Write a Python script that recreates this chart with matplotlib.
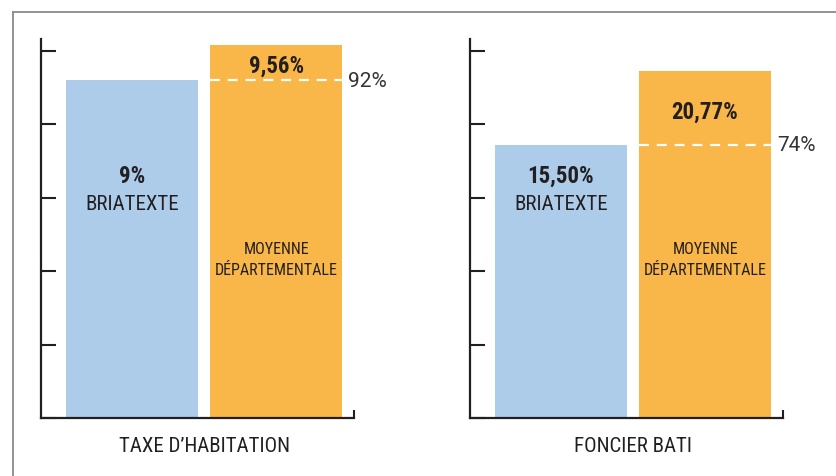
import numpy as np
import matplotlib.pyplot as plt
from matplotlib.lines import Line2D

plt.rcParams['font.family'] = ['Roboto Condensed', 'Archivo Narrow', 'Liberation Sans Narrow', 'DejaVu Sans']

# data (bar heights, in tick units; labels as printed)
panels = ['TAXE D\u2019HABITATION', 'FONCIER BATI']
briatexte = [4.60, 3.72]
moyenne = [5.08, 4.73]
labels_b = ['9%', '15,50%']
labels_m = ['9,56%', '20,77%']
ratio = ['92%', '74%']

blue = '#ACCCEA'
orange = '#FAB749'
dark = '#231F20'

W, H = 836, 477
fig = plt.figure(figsize=(W / 100, H / 100), dpi=100)

# outer frame (left + top gray lines)
fig.add_artist(Line2D([13 / W, 13 / W], [0, 1 - 13 / H], color='#8a8a8a', lw=1.3))
fig.add_artist(Line2D([13 / W, 1], [1 - 13 / H, 1 - 13 / H], color='#8a8a8a', lw=1.3))

lefts = [41, 470]
width_px = 313
bottom_px = 419
top_px = 40
ytop = (bottom_px - top_px) / 73.4

for i in range(2):
    ax = fig.add_axes([lefts[i] / W, (H - bottom_px) / H, width_px / W, (bottom_px - top_px) / H])
    ax.set_ylim(0, ytop)
    ax.set_xlim(-0.63, 1.54)

    ax.bar([0], [briatexte[i]], width=0.92, color=blue, zorder=2)
    ax.bar([1], [moyenne[i]], width=0.92, color=orange, zorder=2)
    ax.plot([0.54, 1.46], [briatexte[i]] * 2, color='white', lw=1.6,
            dashes=(4.5, 3.5), zorder=3)

    ax.text(1.5, briatexte[i], ratio[i], ha='left', va='center', fontsize=15,
            color='#333333', family=['Roboto', 'DejaVu Sans'])
    ax.text(1, (moyenne[i] + briatexte[i]) / 2 - 0.04, labels_m[i], ha='center', va='center',
            fontsize=16.5, fontweight='bold', color=dark)
    ax.text(0, 0.641 * ytop, labels_b[i], ha='center', va='center',
            fontsize=16.5, fontweight='bold', color=dark)
    ax.text(0, 0.567 * ytop, 'BRIATEXTE', ha='center', va='center', fontsize=15, color=dark)
    ax.text(1, 0.446 * ytop, 'MOYENNE', ha='center', va='center', fontsize=11.5, color=dark)
    ax.text(1, 0.393 * ytop, 'DÉPARTEMENTALE', ha='center', va='center', fontsize=11.5, color=dark)
    ax.text(0.5 + 7 / width_px, -28 / (bottom_px - top_px), panels[i], transform=ax.transAxes,
            ha='center', va='center', fontsize=15, color=dark)

    for s in ['top', 'right']:
        ax.spines[s].set_visible(False)
    for s in ['left', 'bottom']:
        ax.spines[s].set_color(dark)
        ax.spines[s].set_linewidth(1.6)
    ax.set_yticks(np.arange(6))
    ax.set_yticklabels([])
    ax.tick_params(axis='y', direction='in', length=11, width=1.5, color=dark)
    ax.set_xticks([1.54])
    ax.set_xticklabels([])
    ax.tick_params(axis='x', direction='in', length=6, width=1.5, color=dark)
    ax.patch.set_alpha(0)

fig.savefig('out.png', dpi=100)
